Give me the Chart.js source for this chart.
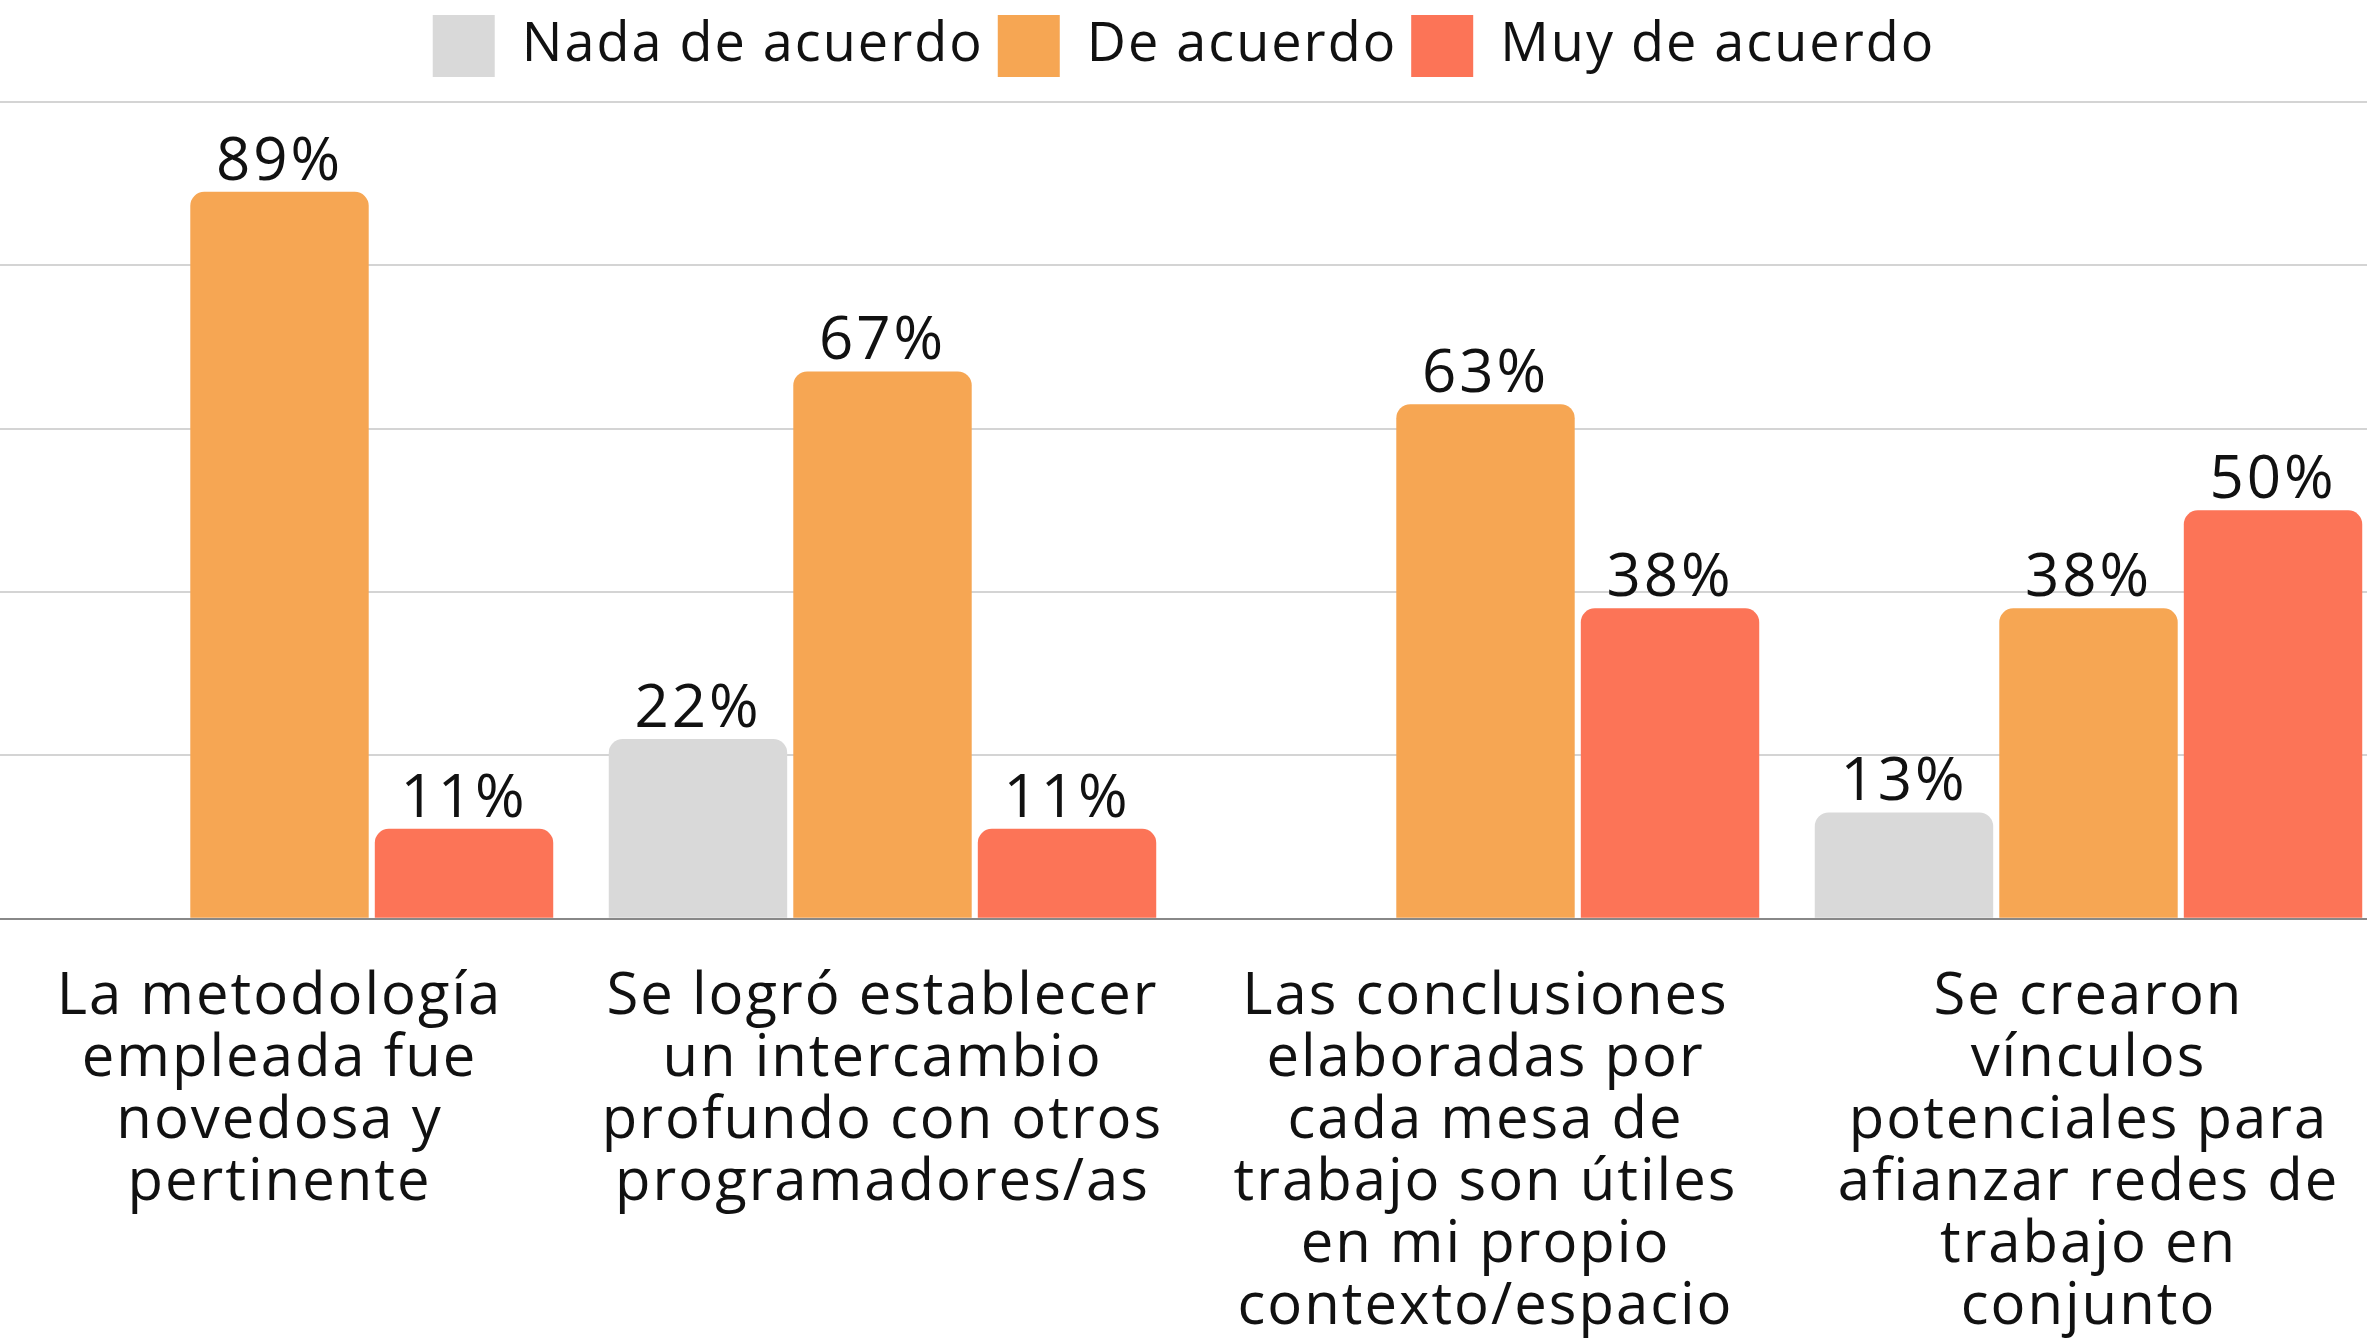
<!DOCTYPE html>
<html>
<head>
<meta charset="utf-8">
<script src="https://cdn.jsdelivr.net/npm/chart.js@4.4.0/dist/chart.umd.min.js"></script>
<style>
  html, body { margin: 0; padding: 0; background: #fff; overflow: hidden; }
  #wrap { position: absolute; left: -22px; top: 0; width: 2412px; height: 1338px; }
</style>
</head>
<body>
<div id="wrap"><canvas id="chart"></canvas></div>
<script>
const categories = [
    ['La metodología', 'empleada fue', 'novedosa y', 'pertinente'],
    ['Se logró establecer', 'un intercambio', 'profundo con otros', 'programadores/as'],
    ['Las conclusiones', 'elaboradas por', 'cada mesa de', 'trabajo son útiles', 'en mi propio', 'contexto/espacio'],
    ['Se crearon', 'vínculos', 'potenciales para', 'afianzar redes de', 'trabajo en', 'conjunto'],
]
const seriesNames = ['Nada de acuerdo', 'De acuerdo', 'Muy de acuerdo']
const nadaDeAcuerdo = [null, 22, null, 13]
const deAcuerdo = [89, 67, 63, 38]
const muyDeAcuerdo = [11, 11, 38, 50]

const FONT = '"Open Sans", "Noto Sans", sans-serif'
const SPACING = '2px'

// the original font is wider, so spread the letters a bit
const letterSpacing = {
    id: 'letterSpacing',
    beforeLayout(chart) { chart.ctx.letterSpacing = SPACING },
    beforeDraw(chart) { chart.ctx.letterSpacing = SPACING },
}

// push the plot area a bit further from the legend
const legendGap = {
    id: 'legendGap',
    beforeInit(chart) {
        const fit = chart.legend.fit
        chart.legend.fit = function () {
            fit.bind(chart.legend)()
            this.height += 15
        }
    }
}

// draws the "xx%" labels over each bar
const valueLabels = {
    id: 'valueLabels',
    afterDatasetsDraw(chart) {
        const ctx = chart.ctx
        ctx.save()
        ctx.font = '60px ' + FONT
        ctx.letterSpacing = '3px'
        ctx.fillStyle = '#111'
        ctx.textAlign = 'center'
        ctx.textBaseline = 'alphabetic'
        chart.data.datasets.forEach((ds, i) => {
            chart.getDatasetMeta(i).data.forEach((bar, j) => {
                const v = ds.data[j]
                if (v == null) return
                ctx.fillText(v + '%', bar.x, bar.y - 12)
            })
        })
        ctx.restore()
    }
}

const barStyle = {
    borderRadius: 14,
    borderSkipped: 'bottom',
    categoryPercentage: 0.918,
    barPercentage: 0.967,
}

const ctx = document.getElementById('chart').getContext('2d')
const myChart = new Chart(ctx, {
    type: 'bar',
    data: {
        labels: categories,
        datasets: [
            { label: seriesNames[0], data: nadaDeAcuerdo, backgroundColor: '#D9D9D9', ...barStyle },
            { label: seriesNames[1], data: deAcuerdo, backgroundColor: '#F6A653', ...barStyle },
            { label: seriesNames[2], data: muyDeAcuerdo, backgroundColor: '#FC7457', ...barStyle },
        ]
    },
    options: {
        responsive: true,
        maintainAspectRatio: false,
        animation: false,
        layout: { padding: { top: 1, bottom: -41 } },
        plugins: {
            legend: {
                position: 'top',
                labels: {
                    boxWidth: 62,
                    boxHeight: 62,
                    padding: 14,
                    color: '#111',
                    font: { family: FONT, size: 54 },
                }
            },
            tooltip: { enabled: false },
        },
        scales: {
            x: {
                grid: { display: false },
                border: { display: true, color: '#888', width: 2 },
                ticks: {
                    color: '#111',
                    padding: 40,
                    maxRotation: 0,
                    autoSkip: false,
                    font: { family: FONT, size: 58, lineHeight: 1.07 },
                }
            },
            y: {
                min: 0,
                max: 100,
                ticks: { display: false, stepSize: 20 },
                grid: { color: '#d4d4d4', lineWidth: 2, drawTicks: false },
                border: { display: false },
            }
        }
    },
    plugins: [letterSpacing, legendGap, valueLabels]
})
</script>
</body>
</html>
